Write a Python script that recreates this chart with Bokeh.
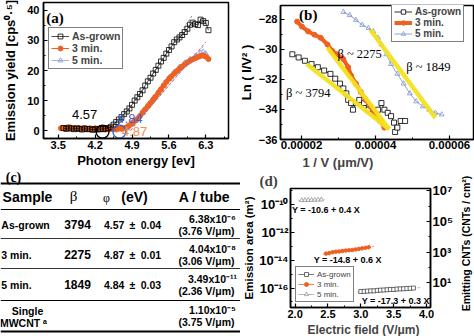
import math
from bokeh.plotting import figure
from bokeh.layouts import column, row
from bokeh.models import (Range1d, FixedTicker, PrintfTickFormatter, Legend, LegendItem,
                          Label, LogAxis, LogScale, Title, CustomJSTickFormatter)
from bokeh.embed import file_html
from bokeh.resources import INLINE
from bokeh.core.properties import value

# ---------------- data: panel (a) photoemission yield ----------------
a_ag_x = [3.60, 3.65, 3.70, 3.75, 3.80, 3.85, 3.90, 3.95, 4.00, 4.05, 4.10, 4.15, 4.20, 4.25,
          4.30, 4.35, 4.40, 4.45, 4.50, 4.55, 4.60, 4.65, 4.70, 4.75, 4.80, 4.85, 4.90, 4.95,
          5.00, 5.05, 5.10, 5.15, 5.20, 5.25, 5.30, 5.35, 5.40, 5.45, 5.50, 5.55, 5.60, 5.65,
          5.70, 5.75, 5.80, 5.85, 5.90, 5.95, 6.00, 6.05, 6.10, 6.15, 6.20, 6.25, 6.30, 6.35]
a_ag_y = [0.9, 0.6, 1.0, 0.7, 0.5, 0.8, 0.6, 0.4, 0.7, 0.5, 0.6, 0.3, 0.5, 0.4,
          0.6, 0.5, 0.7, 0.9, 1.3, 2.0, 2.9, 3.7, 4.5, 5.5, 6.4, 7.4, 8.6, 10.0,
          11.1, 12.2, 13.4, 15.0, 16.4, 17.6, 19.0, 20.2, 21.6, 23.0, 24.2, 25.6, 26.8, 28.0,
          29.4, 30.3, 31.0, 31.8, 32.8, 33.9, 35.2, 35.9, 35.4, 35.1, 36.9, 36.4, 35.8, 33.4]
a_3m_x = [3.55, 3.60, 3.65, 3.70, 3.75, 3.80, 3.85, 3.90, 3.95, 4.00, 4.05, 4.10, 4.15, 4.20,
          4.25, 4.30, 4.35, 4.40, 4.45, 4.50, 4.55, 4.60, 4.65, 4.70, 4.75, 4.80, 4.85, 4.90,
          4.95, 5.00, 5.05, 5.10, 5.15, 5.20, 5.25, 5.30, 5.35, 5.40, 5.45, 5.50, 5.55, 5.60,
          5.65, 5.70, 5.75, 5.80, 5.85, 5.90, 5.95, 6.00, 6.05, 6.10, 6.15, 6.20, 6.25, 6.30, 6.35]
a_3m_y = [0.8, 0.9, 0.7, 1.0, 0.8, 0.9, 0.6, 0.8, 0.7, 0.9, 0.6, 0.7, 0.5, 0.8,
          0.6, 0.5, 0.7, 0.4, 0.6, 0.5, 0.6, 0.4, 0.7, 0.6, 0.9, 1.1, 1.8, 2.5,
          3.2, 3.9, 4.9, 6.0, 7.1, 8.1, 9.2, 10.3, 11.4, 12.6, 13.8, 15.0, 16.2, 17.2,
          18.1, 19.0, 19.8, 20.6, 21.3, 22.0, 22.7, 23.2, 23.7, 24.1, 24.5, 24.8, 25.0, 24.6, 23.8]
a_5m_x = [3.60, 3.70, 3.80, 3.90, 4.00, 4.10, 4.20, 4.30, 4.40, 4.50, 4.60, 4.70, 4.80,
          4.90, 5.00, 5.10, 5.20, 5.30, 5.40, 5.50, 5.60, 5.70, 5.80, 5.90, 6.00, 6.10,
          6.20, 6.25, 6.30]
a_5m_y = [0.6, 0.8, 0.5, 0.7, 0.4, 0.6, 0.5, 0.3, 0.5, 0.4, 0.6, 0.8, 1.2,
          2.4, 4.0, 6.2, 8.4, 10.6, 12.8, 15.2, 17.4, 19.3, 21.0, 22.4, 23.6, 24.6,
          25.6, 26.0, 25.4]
a_fit_ag_x, a_fit_ag_y = [4.57, 6.05], [0.0, 38.5]
a_fit_3m_x, a_fit_3m_y = [4.87, 6.30], [0.0, 29.5]
a_fit_5m_x, a_fit_5m_y = [4.84, 6.25], [0.0, 28.0]
a_onset_circle_x = [4.34, 4.66]
a_onset_labels = ["4.57", "4.84", "4.87"]
a_xticks = [3.5, 4.2, 4.9, 5.6, 6.3]
a_yticks = [0, 10, 20, 30, 40]

# ---------------- data: panel (b) Fowler-Nordheim ----------------
b_ag_x = [1.75e-5, 1.92e-5, 2.09e-5, 2.27e-5, 2.44e-5, 2.61e-5, 2.78e-5, 2.91e-5, 3.04e-5,
          3.13e-5, 3.21e-5, 3.26e-5, 3.34e-5, 3.39e-5, 3.47e-5, 3.56e-5, 3.69e-5, 3.81e-5,
          3.94e-5, 4.07e-5, 4.16e-5, 4.24e-5, 4.33e-5, 4.42e-5, 4.50e-5, 4.53e-5, 4.59e-5,
          4.68e-5, 4.80e-5]
b_ag_y = [-30.34, -30.55, -30.77, -30.99, -31.20, -31.42, -31.64, -31.96, -32.29,
          -32.61, -32.94, -33.37, -33.58, -34.02, -33.58, -33.37, -33.58, -34.02,
          -34.23, -34.02, -33.58, -34.02, -34.23, -34.45, -34.88, -35.50, -35.21,
          -34.77, -34.77]
b_3m_x = [1.88e-5, 2.01e-5, 2.18e-5, 2.35e-5, 2.52e-5, 2.70e-5, 2.83e-5, 2.95e-5, 3.13e-5,
          3.26e-5, 3.34e-5, 3.47e-5, 3.60e-5, 3.73e-5, 3.86e-5, 3.99e-5, 4.12e-5, 4.24e-5]
b_3m_y = [-28.17, -28.50, -28.82, -29.04, -29.25, -29.69, -30.12, -30.34, -30.66,
          -31.20, -31.75, -32.29, -32.83, -33.37, -33.80, -34.45, -34.77, -35.21]
b_5m_x = [3.13e-5, 3.30e-5, 3.47e-5, 3.64e-5, 3.81e-5, 3.94e-5, 4.07e-5, 4.16e-5, 4.29e-5,
          4.42e-5, 4.59e-5, 4.76e-5, 4.93e-5, 5.10e-5, 5.28e-5, 5.45e-5, 5.62e-5, 5.79e-5]
b_5m_y = [-27.53, -27.74, -28.06, -28.39, -28.60, -28.82, -29.25, -29.69, -30.34,
          -30.99, -31.64, -32.29, -32.94, -33.47, -33.80, -34.02, -34.23, -34.34]
b_fit_ag_x, b_fit_ag_y = [2.14e-5, 4.37e-5], [-30.99, -35.32]
b_fit_3m_x, b_fit_3m_y = [2.70e-5, 4.37e-5], [-29.90, -35.32]
b_fit_5m_x, b_fit_5m_y = [3.86e-5, 5.62e-5], [-28.71, -34.56]
b_beta_labels = ["β ~ 3794", "β ~ 2275", "β ~ 1849"]
b_xticks = [2e-5, 4e-5, 6e-5]
b_yticks = [-36, -34, -32, -30, -28]

# ---------------- data: panel (c) table ----------------
c_samples = ["As-grown", "3 min.", "5 min."]
c_beta = [3794, 2275, 1849]
c_phi = [4.57, 4.87, 4.84]
c_phi_err = [0.04, 0.01, 0.03]
c_area_mant = [6.38, 4.04, 3.49, 1.10]
c_area_exp = [-6, -8, -11, -5]
c_field = [3.76, 3.06, 2.36, 3.75]
c_single = ["Single", "MWCNT ᵃ"]

# ---------------- data: panel (d) emission area ----------------
d_ag_x = [3.00, 3.05, 3.10, 3.15, 3.20, 3.25, 3.30, 3.35, 3.40, 3.45, 3.50, 3.55, 3.60,
          3.65, 3.70, 3.75, 3.80]
d_ag_y = [5.62e-17, 5.75e-17, 6.03e-17, 6.31e-17, 6.31e-17, 6.76e-17, 7.08e-17, 7.24e-17,
          7.59e-17, 7.94e-17, 7.94e-17, 8.51e-17, 8.71e-17, 8.91e-17, 9.33e-17, 9.55e-17, 1.0e-16]
d_3m_x = [2.47, 2.52, 2.57, 2.62, 2.67, 2.72, 2.77, 2.82, 2.87, 2.92, 2.97, 3.02, 3.07, 3.12]
d_3m_y = [3.02e-14, 3.31e-14, 3.80e-14, 4.17e-14, 4.37e-14, 4.68e-14, 5.01e-14, 5.25e-14,
          5.50e-14, 6.03e-14, 6.61e-14, 7.24e-14, 7.94e-14, 8.71e-14]
d_5m_x = [2.10, 2.15, 2.20, 2.25, 2.30, 2.35, 2.40]
d_5m_y = [2.09e-10, 2.14e-10, 2.19e-10, 2.19e-10, 2.24e-10, 2.29e-10, 2.34e-10]
d_fit_ag_x, d_fit_ag_y = [2.95, 3.90], [5.25e-17, 1.07e-16]
d_fit_3m_x, d_fit_3m_y = [2.42, 3.20], [2.75e-14, 1.0e-13]
d_fit_5m_x, d_fit_5m_y = [2.05, 2.45], [2.0e-10, 2.45e-10]
d_equations = ["Y = -10.6 + 0.4 X", "Y = -14.8 + 0.6 X", "Y = -17.3 + 0.3 X"]
d_xticks = [2.0, 2.5, 3.0, 3.5, 4.0]
d_left_ticks = [1e-16, 1e-14, 1e-12, 1e-10]
d_right_ticks = [1e1, 1e3, 1e5, 1e7]
d_right_label = "Emitting CNTs (CNTs / cm²)"

# ---------------- styling ----------------
SANS = "Liberation Sans"
SERIF = "Liberation Serif"
ORANGE = "#f0601f"
BLUE = "#8ea3da"
YELLOW = "#f3e21e"

POW10 = CustomJSTickFormatter(code="""
const sup = {"0":"\u2070","1":"\u00b9","2":"\u00b2","3":"\u00b3","4":"\u2074","5":"\u2075",
             "6":"\u2076","7":"\u2077","8":"\u2078","9":"\u2079","-":"\u207b"};
const e = Math.round(Math.log10(tick));
return "10" + String(e).split("").map((c) => sup[c]).join("");
""")


def style_axis(ax, tick_size, label_size, tick_standoff=3, label_standoff=4):
    ax.major_label_text_font = SANS
    ax.major_label_text_font_style = "bold"
    ax.major_label_text_font_size = tick_size
    ax.major_label_text_color = "black"
    ax.axis_label_text_font = SANS
    ax.axis_label_text_font_style = "bold"
    ax.axis_label_text_font_size = label_size
    ax.axis_label_text_color = "black"
    ax.major_tick_in = 4
    ax.major_tick_out = 0
    ax.minor_tick_in = 2
    ax.minor_tick_out = 0
    ax.axis_line_width = 1.5
    ax.major_tick_line_width = 1.2
    ax.major_label_standoff = tick_standoff
    ax.axis_label_standoff = label_standoff


def no_align(p):
    try:
        p.frame_align = False
    except Exception:
        pass


def base_fig(w, h, **kw):
    p = figure(width=w, height=h, output_backend="svg", toolbar_location=None, title=None, **kw)
    p.grid.visible = False
    p.outline_line_color = "black"
    p.outline_line_width = 1.5
    p.background_fill_color = "white"
    p.border_fill_color = "white"
    no_align(p)
    return p


def bare_fig(w, h, xr, yr):
    p = figure(width=w, height=h, x_range=xr, y_range=yr, x_axis_location=None,
               y_axis_location=None, output_backend="svg", toolbar_location=None, title=None,
               min_border_left=0, min_border_right=0, min_border_top=0, min_border_bottom=0)
    p.grid.visible = False
    p.outline_line_color = None
    no_align(p)
    return p


def make_legend(items, loc, size, style, pad, lh, gw=18):
    return Legend(items=items, location=loc, label_text_font=SANS, label_text_font_style=style,
                  label_text_font_size=size, glyph_width=gw, glyph_height=lh, label_height=lh,
                  spacing=0, padding=pad, margin=0, label_standoff=3,
                  border_line_color="black", border_line_width=1,
                  background_fill_color="white", background_fill_alpha=1.0)


def tag(p, x, y, text, font=SERIF, size="15px", style="bold", color="black"):
    p.add_layout(Label(x=x, y=y, text=text, text_font=font, text_font_size=size,
                       text_font_style=style, text_color=color, text_align="center",
                       text_baseline="middle"))


def below_title(p, text, offset, standoff, size="13px"):
    p.add_layout(Title(text=text, align="left", offset=offset, standoff=standoff,
                       text_font=SANS, text_font_size=size, text_font_style="bold"), "below")


# ================= panel (a) =================
pa = base_fig(235, 170, x_range=Range1d(3.22, 6.73), y_range=Range1d(-2.6, 42.6),
              min_border_left=40, min_border_right=7, min_border_top=2, min_border_bottom=28)
pa.xaxis.ticker = FixedTicker(ticks=a_xticks, minor_ticks=[3.85, 4.55, 5.25, 5.95, 6.65])
pa.yaxis.ticker = FixedTicker(ticks=a_yticks, minor_ticks=[5, 15, 25, 35])
pa.xaxis.formatter = PrintfTickFormatter(format="%.1f")
pa.xaxis.axis_label = "Photon energy [ev]"
pa.yaxis.axis_label = "Emission yield [cps⁰·⁵]"
style_axis(pa.xaxis[0], "11px", "13px", 2, 1)
style_axis(pa.yaxis[0], "11px", "13px", 4, 6)

l5 = pa.line(a_5m_x, a_5m_y, line_color=BLUE, line_width=0.8)
s5 = pa.scatter(a_5m_x, a_5m_y, marker="triangle", size=6, fill_color=None,
                line_color=BLUE, line_width=1)
l3 = pa.line(a_3m_x, a_3m_y, line_color=ORANGE, line_width=1)
s3 = pa.scatter(a_3m_x, a_3m_y, marker="circle", size=5, fill_color=ORANGE, line_color=ORANGE)
lag = pa.line(a_ag_x, a_ag_y, line_color="black", line_width=0.7)
sag = pa.scatter(a_ag_x, a_ag_y, marker="square", size=5, fill_color=None,
                 line_color="black", line_width=0.8)
pa.line(a_fit_ag_x, a_fit_ag_y, line_color="#555555", line_width=0.8, line_dash="2 2")
pa.line(a_fit_3m_x, a_fit_3m_y, line_color="#e2453c", line_width=0.8, line_dash="3 2")
pa.line(a_fit_5m_x, a_fit_5m_y, line_color="#6f86cc", line_width=0.8, line_dash="3 2")
pa.scatter(a_onset_circle_x, [-0.3, -0.3], marker="circle", size=13, fill_color=None,
           line_color=["black", "#3f62c4"], line_width=1.4)
tag(pa, 4.00, 5.4, a_onset_labels[0], SANS, "13px", "normal", "black")
tag(pa, 4.86, 3.9, a_onset_labels[1], SANS, "13px", "normal", "#3f62c4")
tag(pa, 4.95, -0.4, a_onset_labels[2], SANS, "13px", "normal", "#f09050")
tag(pa, 3.44, 37.4, "(a)")

pa.add_layout(make_legend([LegendItem(label="As-grown", renderers=[lag, sag]),
                           LegendItem(label="3 min.", renderers=[l3, s3]),
                           LegendItem(label="5 min.", renderers=[l5, s5])],
                          (5, 69), "10.5px", "bold", 2, 12))

# ================= panel (b) =================
pb = base_fig(239, 170, x_range=Range1d(1.43e-5, 6.65e-5), y_range=Range1d(-36.0, -27.1),
              min_border_left=36, min_border_right=1, min_border_top=5, min_border_bottom=28)
pb.xaxis.ticker = FixedTicker(ticks=b_xticks, minor_ticks=[3e-5, 5e-5])
pb.yaxis.ticker = FixedTicker(ticks=b_yticks, minor_ticks=[-35, -33, -31, -29])
pb.xaxis.formatter = PrintfTickFormatter(format="%.5f")
pb.yaxis.axis_label = "Ln ( I/V² )"
style_axis(pb.xaxis[0], "11.5px", "13px", 1, 1)
style_axis(pb.yaxis[0], "11px", "13px", 3, 2)
below_title(pb, "1 / V (μm/V)", 22, 2)

lb5 = pb.line(b_5m_x, b_5m_y, line_color=BLUE, line_width=1)
sb5 = pb.scatter(b_5m_x, b_5m_y, marker="triangle", size=5, fill_color=None,
                 line_color="#8395cc", line_width=0.8)
lbag = pb.line(b_ag_x, b_ag_y, line_color="black", line_width=0.8)
sbag = pb.scatter(b_ag_x, b_ag_y, marker="square", size=5, fill_color="white",
                  line_color="black", line_width=0.8)
lb3 = pb.line(b_3m_x, b_3m_y, line_color=ORANGE, line_width=4)
sb3 = pb.scatter(b_3m_x, b_3m_y, marker="circle", size=5, fill_color=ORANGE, line_color=ORANGE)
for fx, fy in [(b_fit_ag_x, b_fit_ag_y), (b_fit_3m_x, b_fit_3m_y), (b_fit_5m_x, b_fit_5m_y)]:
    pb.line(fx, fy, line_color=YELLOW, line_width=4.5, line_alpha=0.95)
tag(pb, 2.18e-5, -32.94, b_beta_labels[0], SERIF, "12.5px", "normal")
tag(pb, 3.57e-5, -30.34, b_beta_labels[1], SERIF, "12.5px", "normal")
tag(pb, 5.43e-5, -31.20, b_beta_labels[2], SERIF, "12.5px", "normal")
tag(pb, 2.18e-5, -27.75, "(b)")

pb.add_layout(make_legend([LegendItem(label="As-grown", renderers=[lbag, sbag]),
                           LegendItem(label="3 min.", renderers=[lb3, sb3]),
                           LegendItem(label="5 min.", renderers=[lb5, sb5])],
                          (111, 97), "10px", "bold", 2, 11))

# ================= panel (c) table =================
pc = bare_fig(240, 166, Range1d(0, 240), Range1d(166, 0))

SUP = str.maketrans("0123456789-", "⁰¹²³⁴⁵⁶⁷⁸⁹⁻")
row_y = [54, 84, 114]
pc.segment(x0=[0, 0, 0, 0, 0, 0], y0=[13, 39, 68, 98, 130, 161],
           x1=[240] * 6, y1=[13, 39, 68, 98, 130, 161],
           line_color="black", line_width=[2.2, 1.2, 0.8, 0.8, 1.2, 2.2])


def ctext(xs, ys, texts, size, font=SANS, style="bold"):
    pc.text(x=xs, y=ys, text=texts, text_font=value(font), text_font_style=style,
            text_font_size=size, text_align="center", text_baseline="middle",
            text_color="black")


ctext([27], [26], ["Sample"], "14px")
ctext([73], [25], ["β"], "15px", SERIF, "normal")
ctext([106], [27], ["φ"], "12px", SERIF, "normal")
ctext([134], [26], ["(eV)"], "14px")
ctext([204], [26], ["A / tube"], "14px")
ctext([25, 16, 16], row_y, c_samples, "10.5px")
ctext([77, 77, 77], row_y, [str(b) for b in c_beta], "12px")
ctext([132, 132, 132], row_y,
      [f"{v:.2f}\u2002±\u2002{e:.2f}" for v, e in zip(c_phi, c_phi_err)], "10.5px")
ctext([212, 212, 212, 212], [y - 6 for y in row_y] + [139],
      [f"{m:.2f}x10" + str(e).translate(SUP) for m, e in zip(c_area_mant, c_area_exp)], "10.5px")
ctext([206, 206, 206, 206], [y + 6 for y in row_y] + [151],
      [f"({f:.2f} V/μm)" for f in c_field], "10.5px")
ctext([27, 23], [140, 152], c_single, "10.5px")
ctext([13], [7], ["(c)"], "14px", SERIF, "bold")

# ================= panel (d) =================
pdd = base_fig(216, 166, x_range=Range1d(1.93, 4.06), y_axis_type="log",
               y_range=Range1d(10 ** -17.4, 10 ** -8.83),
               min_border_left=48, min_border_right=24, min_border_top=0, min_border_bottom=0)
pdd.extra_y_ranges = {"cnt": Range1d(10 ** -0.61, 10 ** 7.14)}
pdd.extra_y_scales = {"cnt": LogScale()}
rax = LogAxis(y_range_name="cnt")
pdd.add_layout(rax, "right")
rax.ticker = FixedTicker(ticks=d_right_ticks, minor_ticks=[1e0, 1e2, 1e4, 1e6])
rax.formatter = POW10
pdd.yaxis[0].ticker = FixedTicker(ticks=d_left_ticks,
                                  minor_ticks=[1e-17, 1e-15, 1e-13, 1e-11, 1e-9])
pdd.yaxis[0].formatter = POW10
pdd.xaxis.ticker = FixedTicker(ticks=d_xticks, minor_ticks=[2.25, 2.75, 3.25, 3.75])
pdd.xaxis.formatter = PrintfTickFormatter(format="%.1f")
pdd.yaxis[0].axis_label = "Emission area (m²)"
style_axis(pdd.xaxis[0], "11px", "12px", 2, 0)
style_axis(pdd.yaxis[0], "13px", "11.5px", 2, 1)
style_axis(rax, "13px", "11px", 2, 1)
below_title(pdd, "Electric field (V/μm)", 17, 0, "12px")
pdd.add_layout(Title(text="(d)", align="left", offset=-31, standoff=0, text_font=SERIF,
                     text_font_size="15px", text_font_style="bold"), "above")

pdd.line(d_fit_ag_x, d_fit_ag_y, line_color="#f0a060", line_width=1, line_dash="3 2")
pdd.line(d_fit_3m_x, d_fit_3m_y, line_color="#f0a060", line_width=1, line_dash="3 2")
pdd.line(d_fit_5m_x, d_fit_5m_y, line_color="#c8c8c8", line_width=1, line_dash="3 2")
ld_ag = pdd.line(d_ag_x, d_ag_y, line_color="#444444", line_width=0.7)
sd_ag = pdd.scatter(d_ag_x, d_ag_y, marker="square", size=4, fill_color="white",
                    line_color="#333333", line_width=0.7)
ld_3 = pdd.line(d_3m_x, d_3m_y, line_color=ORANGE, line_width=0.8)
sd_3 = pdd.scatter(d_3m_x, d_3m_y, marker="circle", size=3.5, fill_color=ORANGE,
                   line_color=ORANGE)
ld_5 = pdd.line(d_5m_x, d_5m_y, line_color="#999999", line_width=0.7)
sd_5 = pdd.scatter(d_5m_x, d_5m_y, marker="triangle", size=4.5, fill_color="white",
                   line_color="#888888", line_width=0.7)
tag(pdd, 2.47, 4.07e-11, d_equations[0], SANS, "9px", "bold")
tag(pdd, 2.80, 1.12e-14, d_equations[1], SANS, "9px", "bold")
tag(pdd, 3.53, 1.10e-17, d_equations[2], SANS, "9px", "bold")

pdd.add_layout(make_legend([LegendItem(label="As-grown", renderers=[ld_ag, sd_ag]),
                            LegendItem(label="3 min.", renderers=[ld_3, sd_3]),
                            LegendItem(label="5 min.", renderers=[ld_5, sd_5])],
                           (5, 5), "8px", "normal", 2, 10, 16))

# right-hand axis title of panel (d), in its own narrow strip
pe = bare_fig(18, 166, Range1d(0, 18), Range1d(0, 166))
pe.text(x=[9], y=[93], text=[d_right_label], angle=math.pi / 2, text_align="center",
        text_baseline="middle", text_font=value(SANS), text_font_style="bold",
        text_font_size="10.5px", text_color="black")

layout = column(row(pa, pb), row(pc, pdd, pe))
open("out.html", "w").write(file_html(layout, INLINE))
